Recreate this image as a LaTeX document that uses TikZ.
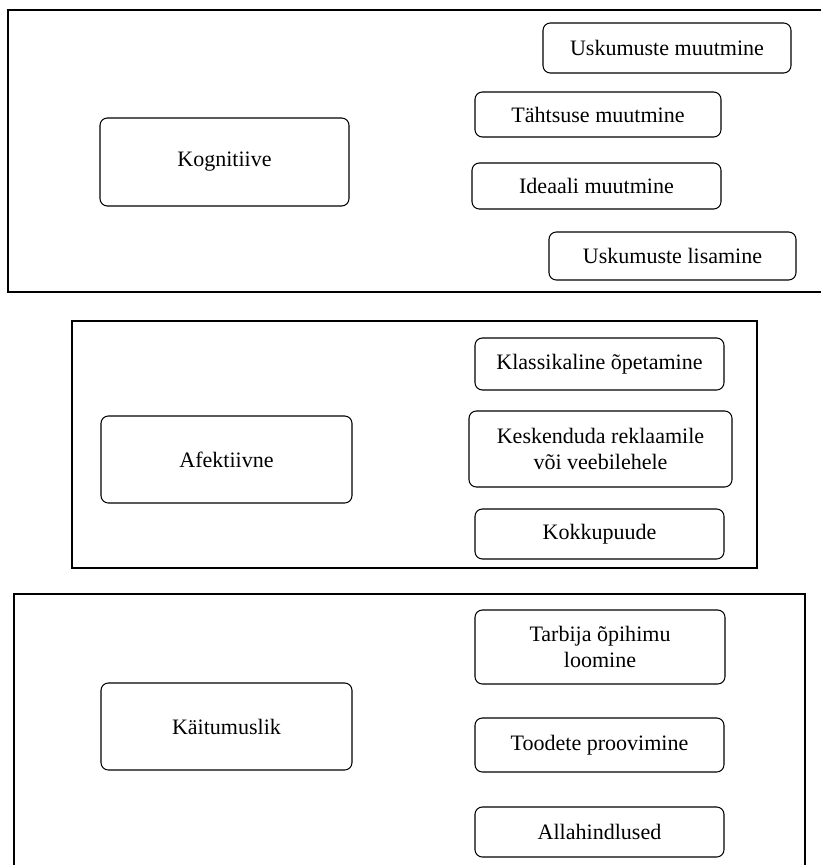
\documentclass[tikz,border=0pt]{standalone}
\usepackage{fontspec}
\setmainfont{Liberation Serif}
\usetikzlibrary{positioning}

\begin{document}
\begin{tikzpicture}[x=0.03cm, y=-0.03cm,
                item style/.style={draw=black, rounded corners=0.22cm, line width=0.9pt, align=center, inner sep=0pt, font=\fontsize{18.8}{21.5}\selectfont},
                group style/.style={draw=black, line width=1.2pt}
]
    \useasboundingbox (0,0) rectangle (821,865);

    % First group (right side runs off the page)
        \draw[group style] (830,10) -- (8,10) -- (8,292) -- (830,292);
        \node[item style, minimum width=249*0.03cm, minimum height=88*0.03cm] (kog) at (224.5,162) {Kognitiive};
        \node[item style, minimum width=248*0.03cm, minimum height=50*0.03cm] (usk1) at (667,48) {Uskumuste muutmine};
        \node[item style, minimum width=246*0.03cm, minimum height=45*0.03cm] (taht) at (598,114.5) {Tähtsuse muutmine};
        \node[item style, minimum width=249*0.03cm, minimum height=46*0.03cm] (ideaal) at (596.5,186) {Ideaali muutmine};
        \node[item style, minimum width=247*0.03cm, minimum height=48*0.03cm] (usk2) at (672.5,256) {Uskumuste lisamine};

    % Second group
        \draw[group style] (72,321) rectangle (757,568);
        \node[item style, minimum width=251*0.03cm, minimum height=87*0.03cm] (afek) at (226.5,459.5) {Afektiivne};
        \node[item style, minimum width=249*0.03cm, minimum height=52*0.03cm] (klass) at (599.5,364) {Klassikaline õpetamine};
        \node[item style, minimum width=263*0.03cm, minimum height=76*0.03cm] (kesk) at (600.5,449) {Keskenduda reklaamile\\või veebilehele};
        \node[item style, minimum width=249*0.03cm, minimum height=50*0.03cm] (kokku) at (599.5,534) {Kokkupuude};

    % Third group (bottom runs off the page)
        \draw[group style] (14,875) -- (14,594) -- (805,594) -- (805,875);
        \node[item style, minimum width=251*0.03cm, minimum height=87*0.03cm] (kait) at (226.5,726.5) {Käitumuslik};
        \node[item style, minimum width=250*0.03cm, minimum height=74*0.03cm] (tarb) at (600,647) {Tarbija õpihimu\\loomine};
        \node[item style, minimum width=249*0.03cm, minimum height=54*0.03cm] (tood) at (599.5,745) {Toodete proovimine};
        \node[item style, minimum width=249*0.03cm, minimum height=50*0.03cm] (alla) at (599.5,832) {Allahindlused};
\end{tikzpicture}
\end{document}
